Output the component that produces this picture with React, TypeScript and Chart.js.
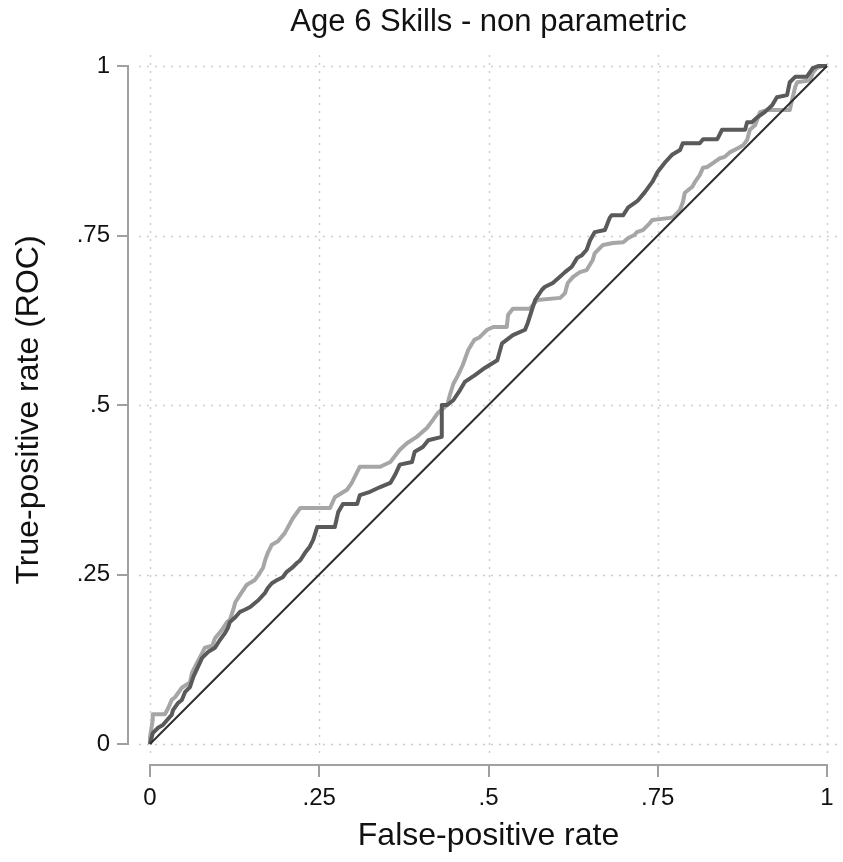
import React, { useEffect, useRef } from 'react';
import { Chart, registerables } from 'chart.js';

Chart.register(...registerables);

const chartTitle = 'Age 6 Skills - non parametric';
const xAxisTitle = 'False-positive rate';
const yAxisTitle = 'True-positive rate (ROC)';
const tickValues = [0, 0.25, 0.5, 0.75, 1];
const tickLabels = ['0', '.25', '.5', '.75', '1'];

const refFpr = [0, 1];
const refTpr = [0, 1];

const darkFpr = [0, 0.004, 0.012, 0.019, 0.025, 0.032, 0.034, 0.041, 0.047, 0.052, 0.059, 0.064, 0.071, 0.077, 0.086, 0.096, 0.103, 0.111, 0.115, 0.118, 0.126, 0.133, 0.14, 0.148, 0.155, 0.16, 0.17, 0.174, 0.18, 0.188, 0.196, 0.202, 0.21, 0.217, 0.222, 0.229, 0.236, 0.241, 0.247, 0.273, 0.278, 0.285, 0.306, 0.31, 0.325, 0.34, 0.355, 0.362, 0.369, 0.387, 0.391, 0.403, 0.411, 0.431, 0.431, 0.439, 0.448, 0.458, 0.465, 0.48, 0.495, 0.513, 0.52, 0.536, 0.554, 0.558, 0.564, 0.569, 0.579, 0.583, 0.595, 0.603, 0.613, 0.623, 0.631, 0.638, 0.645, 0.65, 0.657, 0.672, 0.679, 0.682, 0.699, 0.706, 0.716, 0.721, 0.731, 0.742, 0.75, 0.761, 0.771, 0.783, 0.787, 0.812, 0.817, 0.838, 0.845, 0.879, 0.882, 0.889, 0.898, 0.908, 0.919, 0.926, 0.941, 0.945, 0.953, 0.97, 0.979, 0.987, 1];
const darkTpr = [0, 0.016, 0.024, 0.028, 0.035, 0.043, 0.05, 0.06, 0.065, 0.077, 0.084, 0.099, 0.114, 0.127, 0.136, 0.142, 0.153, 0.164, 0.171, 0.18, 0.187, 0.195, 0.198, 0.202, 0.208, 0.212, 0.223, 0.23, 0.237, 0.242, 0.246, 0.254, 0.26, 0.267, 0.271, 0.282, 0.291, 0.301, 0.32, 0.32, 0.342, 0.354, 0.354, 0.367, 0.372, 0.379, 0.385, 0.397, 0.412, 0.416, 0.431, 0.438, 0.448, 0.453, 0.5, 0.5, 0.507, 0.522, 0.534, 0.544, 0.555, 0.566, 0.591, 0.603, 0.611, 0.621, 0.64, 0.655, 0.67, 0.674, 0.68, 0.687, 0.696, 0.704, 0.717, 0.721, 0.729, 0.743, 0.755, 0.758, 0.776, 0.78, 0.78, 0.791, 0.798, 0.802, 0.814, 0.829, 0.844, 0.858, 0.869, 0.876, 0.886, 0.886, 0.892, 0.892, 0.906, 0.906, 0.917, 0.917, 0.925, 0.932, 0.942, 0.954, 0.957, 0.976, 0.984, 0.984, 0.997, 1, 1];

const lightFpr = [0, 0, 0.004, 0.004, 0.022, 0.027, 0.032, 0.037, 0.047, 0.059, 0.062, 0.069, 0.077, 0.081, 0.092, 0.096, 0.106, 0.114, 0.118, 0.123, 0.126, 0.133, 0.143, 0.155, 0.16, 0.167, 0.17, 0.174, 0.18, 0.189, 0.199, 0.211, 0.222, 0.266, 0.273, 0.291, 0.298, 0.31, 0.34, 0.355, 0.369, 0.38, 0.394, 0.409, 0.418, 0.425, 0.439, 0.443, 0.448, 0.455, 0.462, 0.47, 0.479, 0.487, 0.498, 0.507, 0.527, 0.529, 0.536, 0.561, 0.572, 0.606, 0.613, 0.617, 0.625, 0.635, 0.645, 0.654, 0.657, 0.669, 0.684, 0.699, 0.706, 0.716, 0.719, 0.728, 0.738, 0.742, 0.768, 0.773, 0.783, 0.787, 0.79, 0.801, 0.805, 0.812, 0.817, 0.823, 0.832, 0.842, 0.849, 0.857, 0.869, 0.876, 0.882, 0.886, 0.894, 0.901, 0.911, 0.945, 0.953, 0.956, 0.975, 0.979, 0.985, 0.993, 1];
const lightTpr = [0, 0.01, 0.035, 0.044, 0.044, 0.053, 0.065, 0.069, 0.083, 0.091, 0.105, 0.119, 0.134, 0.142, 0.145, 0.156, 0.168, 0.18, 0.183, 0.198, 0.209, 0.22, 0.235, 0.242, 0.249, 0.26, 0.271, 0.282, 0.294, 0.299, 0.311, 0.333, 0.348, 0.348, 0.364, 0.375, 0.385, 0.409, 0.409, 0.416, 0.434, 0.444, 0.453, 0.466, 0.478, 0.488, 0.5, 0.515, 0.531, 0.544, 0.559, 0.581, 0.596, 0.6, 0.611, 0.615, 0.615, 0.633, 0.642, 0.642, 0.655, 0.658, 0.665, 0.68, 0.689, 0.696, 0.699, 0.714, 0.724, 0.736, 0.739, 0.74, 0.746, 0.751, 0.755, 0.758, 0.768, 0.773, 0.776, 0.777, 0.788, 0.799, 0.813, 0.822, 0.829, 0.839, 0.85, 0.851, 0.857, 0.864, 0.866, 0.873, 0.879, 0.883, 0.891, 0.906, 0.913, 0.932, 0.935, 0.935, 0.969, 0.976, 0.979, 0.99, 0.997, 1, 1];

const FONT = '"Liberation Sans", Arial, Helvetica, sans-serif';

const zip = (xs: number[], ys: number[]) => xs.map((x, i) => ({ x, y: ys[i] }));

const stataPlugin = {
  id: 'stataDecor',
  beforeDatasetsDraw(chart: any) {
    const { ctx, scales } = chart;
    const x = scales.x;
    const y = scales.y;
    ctx.save();
    ctx.strokeStyle = '#bdbdbd';
    ctx.lineWidth = 1.5;
    ctx.setLineDash([1.5, 6.5]);
    const xl = x.getPixelForValue(-0.016);
    const xr = x.getPixelForValue(1.016);
    const yt = y.getPixelForValue(1.016);
    const yb = y.getPixelForValue(-0.016);
    tickValues.forEach((v) => {
      const py = Math.round(y.getPixelForValue(v)) + 0.5;
      ctx.beginPath();
      ctx.moveTo(xl, py);
      ctx.lineTo(xr, py);
      ctx.stroke();
      const px = Math.round(x.getPixelForValue(v)) + 0.5;
      ctx.beginPath();
      ctx.moveTo(px, yt);
      ctx.lineTo(px, yb);
      ctx.stroke();
    });
    ctx.restore();
  },
  afterDraw(chart: any) {
    const { ctx, scales, chartArea } = chart;
    const x = scales.x;
    const y = scales.y;
    ctx.save();
    ctx.strokeStyle = '#a0a0a0';
    ctx.lineWidth = 2;
    ctx.beginPath();
    ctx.moveTo(chartArea.left, y.getPixelForValue(1) - 1);
    ctx.lineTo(chartArea.left, y.getPixelForValue(0) + 1);
    ctx.stroke();
    ctx.beginPath();
    ctx.moveTo(x.getPixelForValue(0) - 1, chartArea.bottom);
    ctx.lineTo(x.getPixelForValue(1) + 1, chartArea.bottom);
    ctx.stroke();
    ctx.fillStyle = '#111';
    ctx.textAlign = 'center';
    ctx.textBaseline = 'alphabetic';
    ctx.font = `31px ${FONT}`;
    ctx.fillText(chartTitle, x.getPixelForValue(0.5), 31);
    ctx.font = `32px ${FONT}`;
    ctx.fillText(xAxisTitle, x.getPixelForValue(0.5), 845);
    ctx.restore();
  },
};

const labelFor = (v: number) => {
  const i = tickValues.findIndex((t) => Math.abs(t - v) < 1e-9);
  return i >= 0 ? tickLabels[i] : '';
};

export default function App() {
  const ref = useRef<HTMLCanvasElement | null>(null);
  useEffect(() => {
    if (!ref.current) return;
    const tickFont = { family: FONT, size: 24 };
    const chart = new Chart(ref.current, {
      type: 'scatter',
      data: {
        datasets: [
          {
            label: 'Reference',
            data: zip(refFpr, refTpr),
            showLine: true,
            borderColor: '#2e2e2e',
            borderWidth: 2,
            pointRadius: 0,
          },
          {
            label: 'Dark',
            data: zip(darkFpr, darkTpr),
            showLine: true,
            borderColor: '#5a5a5a',
            borderWidth: 4,
            borderJoinStyle: 'round',
            pointRadius: 0,
          },
          {
            label: 'Light',
            data: zip(lightFpr, lightTpr),
            showLine: true,
            borderColor: '#a6a6a6',
            borderWidth: 4,
            borderJoinStyle: 'round',
            pointRadius: 0,
          },
        ],
      },
      options: {
        responsive: false,
        animation: false,
        devicePixelRatio: 1,
        layout: { padding: { top: 55, right: 5, bottom: 0, left: 0 } },
        plugins: {
          legend: { display: false },
          tooltip: { enabled: false },
          title: { display: false },
        },
        scales: {
          x: {
            type: 'linear',
            min: -22 / 677,
            max: 1 + 11 / 677,
            afterBuildTicks: (s: any) => {
              s.ticks = tickValues.map((v) => ({ value: v }));
            },
            afterFit: (s: any) => {
              s.height = 97;
            },
            ticks: {
              callback: (v: any) => labelFor(Number(v)),
              font: tickFont,
              color: '#111',
              padding: 7,
              maxRotation: 0,
              autoSkip: false,
            },
            grid: {
              drawOnChartArea: false,
              drawTicks: true,
              tickLength: 12,
              color: '#a0a0a0',
              lineWidth: 2,
            },
            border: { display: false },
          },
          y: {
            type: 'linear',
            min: -21 / 678,
            max: 1 + 11 / 678,
            afterBuildTicks: (s: any) => {
              s.ticks = tickValues.map((v) => ({ value: v }));
            },
            afterFit: (s: any) => {
              s.width = 128;
            },
            ticks: {
              callback: (v: any) => labelFor(Number(v)),
              font: tickFont,
              color: '#111',
              padding: 7,
              autoSkip: false,
            },
            grid: {
              drawOnChartArea: false,
              drawTicks: true,
              tickLength: 11,
              color: '#a0a0a0',
              lineWidth: 2,
            },
            border: { display: false },
            title: {
              display: true,
              text: yAxisTitle,
              font: { family: FONT, size: 32 },
              color: '#111',
              padding: { top: 10, bottom: 0 },
            },
          },
        },
      },
      plugins: [stataPlugin],
    } as any);
    return () => chart.destroy();
  }, []);

  return (
    <div style={{ position: 'fixed', left: 0, top: 0, width: 843, height: 862, background: '#fff' }}>
      <canvas ref={ref} width={843} height={862} style={{ display: 'block' }} />
    </div>
  );
}
